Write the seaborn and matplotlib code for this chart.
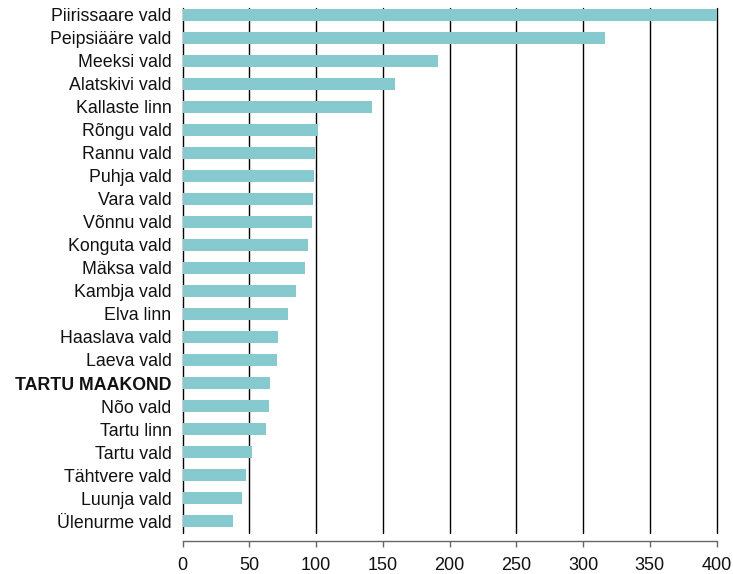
import matplotlib
matplotlib.use("Agg")
import matplotlib.pyplot as plt
import seaborn as sns
import pandas as pd

categories = ["Piirissaare vald", "Peipsiääre vald", "Meeksi vald", "Alatskivi vald",
              "Kallaste linn", "Rõngu vald", "Rannu vald", "Puhja vald", "Vara vald",
              "Võnnu vald", "Konguta vald", "Mäksa vald", "Kambja vald", "Elva linn",
              "Haaslava vald", "Laeva vald", "TARTU MAAKOND", "Nõo vald", "Tartu linn",
              "Tartu vald", "Tähtvere vald", "Luunja vald", "Ülenurme vald"]
values = [400, 316.4, 191.4, 159.2, 142.0, 101.6, 99.6, 98.6, 97.8, 97.1, 94.2, 91.9,
          85.1, 79.1, 71.6, 70.9, 65.6, 64.9, 62.7, 52.2, 47.7, 44.7, 37.9]
xticks = [0, 50, 100, 150, 200, 250, 300, 350, 400]

sns.set_theme(style="white")
plt.rcParams["font.family"] = ["Liberation Sans", "DejaVu Sans"]

df = pd.DataFrame({"name": categories, "value": values})

fig = plt.figure(figsize=(7.33, 5.74), dpi=100)
ax = fig.add_axes([182.5 / 733, 1 - 533 / 574, (716.5 - 182.5) / 733, (533 - 8) / 574])

sns.barplot(data=df, x="value", y="name", orient="h", color="#86CACF",
            saturation=1, width=0.54, linewidth=0, edgecolor="none", ax=ax)
for p in ax.patches:
    p.set_zorder(3)

ax.set_xlim(0, 400)
ax.set_ylim(len(categories) - 1 + 0.52, -0.30)
ax.set_xticks(xticks)
ax.set_xticklabels([str(t) for t in xticks])
for t in xticks:
    ax.axvline(t, color="black", lw=1.0, zorder=1, clip_on=False)

ax.set_xlabel("")
ax.set_ylabel("")
for s in ["top", "right", "left"]:
    ax.spines[s].set_visible(False)
ax.spines["bottom"].set_position(("outward", 6))
ax.spines["bottom"].set_color("#666666")
ax.spines["bottom"].set_linewidth(1.0)
ax.tick_params(axis="x", direction="out", length=4, width=1.0, color="#666666",
               labelsize=13, pad=7, labelcolor="#111111", bottom=True)
ax.tick_params(axis="y", length=0, labelsize=12.8, pad=8, labelcolor="#111111")
for lbl in ax.get_yticklabels():
    if lbl.get_text() == "TARTU MAAKOND":
        lbl.set_fontweight("bold")

fig.savefig("out.png", dpi=100)
